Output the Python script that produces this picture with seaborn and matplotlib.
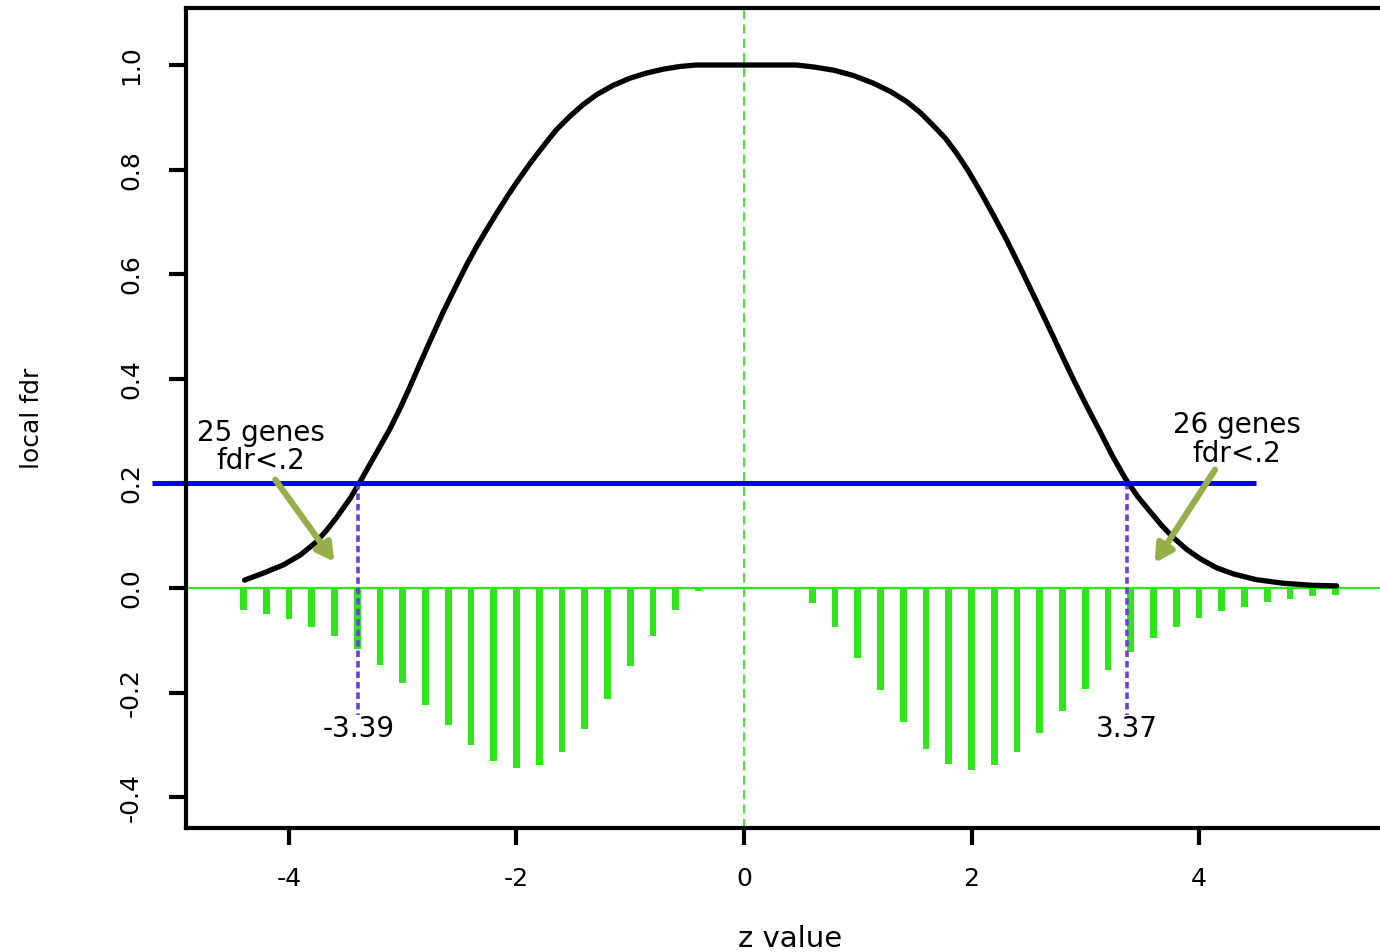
import matplotlib
matplotlib.use("Agg")
import matplotlib.pyplot as plt
import seaborn as sns
import pandas as pd

# ---- data -------------------------------------------------------------
# histogram of z values (scaled counts, drawn downward below zero)
left_z = [-4.4, -4.2, -4.0, -3.8, -3.6, -3.4, -3.2, -3.0, -2.8, -2.6, -2.4,
          -2.2, -2.0, -1.8, -1.6, -1.4, -1.2, -1.0, -0.8, -0.6, -0.4]
left_depth = [0.043, 0.050, 0.059, 0.074, 0.091, 0.117, 0.147, 0.182, 0.223,
              0.262, 0.301, 0.330, 0.344, 0.338, 0.314, 0.270, 0.212, 0.150,
              0.092, 0.043, 0.006]
right_z = [0.6, 0.8, 1.0, 1.2, 1.4, 1.6, 1.8, 2.0, 2.2, 2.4, 2.6, 2.8, 3.0,
           3.2, 3.4, 3.6, 3.8, 4.0, 4.2, 4.4, 4.6, 4.8, 5.0, 5.2]
right_depth = [0.029, 0.075, 0.134, 0.196, 0.257, 0.308, 0.337, 0.349, 0.338,
               0.314, 0.277, 0.236, 0.194, 0.157, 0.122, 0.096, 0.075, 0.058,
               0.045, 0.036, 0.027, 0.021, 0.016, 0.013]

# estimated local fdr curve
curve_z = [-4.39, -4.23, -4.05, -3.90, -3.76, -3.67, -3.58, -3.46, -3.37,
           -3.24, -3.11, -3.02, -2.94, -2.85, -2.76, -2.65, -2.53, -2.44,
           -2.35, -2.26, -2.17, -2.08, -2.00, -1.88, -1.76, -1.65, -1.53,
           -1.41, -1.29, -1.15, -1.00, -0.85, -0.71, -0.57, -0.42, 0.00,
           0.46, 0.62, 0.79, 0.96, 1.14, 1.29, 1.43, 1.55, 1.66, 1.77, 1.87,
           1.97, 2.07, 2.19, 2.31, 2.41, 2.51, 2.62, 2.72, 2.81, 2.90, 3.01,
           3.13, 3.24, 3.35, 3.46, 3.57, 3.67, 3.77, 3.89, 4.01, 4.15, 4.30,
           4.50, 4.74, 5.00, 5.21]
curve_fdr = [0.015, 0.028, 0.044, 0.063, 0.088, 0.110, 0.135, 0.172, 0.205,
             0.255, 0.305, 0.345, 0.383, 0.428, 0.472, 0.525, 0.578, 0.617,
             0.653, 0.686, 0.718, 0.749, 0.775, 0.812, 0.846, 0.876, 0.902,
             0.925, 0.944, 0.961, 0.975, 0.985, 0.992, 0.997, 1.000, 1.000,
             1.000, 0.996, 0.990, 0.980, 0.965, 0.949, 0.930, 0.909, 0.885,
             0.860, 0.831, 0.798, 0.761, 0.714, 0.665, 0.621, 0.576, 0.526,
             0.480, 0.438, 0.397, 0.349, 0.299, 0.252, 0.210, 0.175, 0.146,
             0.120, 0.097, 0.074, 0.056, 0.039, 0.027, 0.016, 0.009, 0.005,
             0.004]

fdr_cut = 0.2
cut_left, cut_right = -3.39, 3.37
genes_left, genes_right = 25, 26

x_ticks = [-4, -2, 0, 2, 4]
y_ticks = [-0.4, -0.2, 0.0, 0.2, 0.4, 0.6, 0.8, 1.0]

# ---- style ------------------------------------------------------------
sns.set_style("ticks")
plt.rcParams["font.family"] = ["DejaVu Sans"]
plt.rcParams["axes.unicode_minus"] = False
plt.rcParams["text.color"] = "black"
plt.rcParams["axes.labelcolor"] = "black"

GREEN = "#2ee619"
BLUE = "#0000ff"
PURPLE = "#6b3fd9"
OLIVE = "#95b04a"

fig = plt.figure(figsize=(13.8, 9.52), dpi=100)
ax = fig.add_axes([186 / 1380, 1 - 828 / 952, (1394 - 186) / 1380, 820 / 952])

hist = pd.DataFrame({
    "z": left_z + right_z,
    "value": [-d for d in left_depth + right_depth],
})
sns.barplot(data=hist, x="z", y="value", native_scale=True, width=0.3,
            color=GREEN, saturation=1, errorbar=None, linewidth=0, ax=ax,
            zorder=2)

# reference lines at zero
ax.axhline(0, color=GREEN, lw=1.6, zorder=2.2)
ax.axvline(0, color=GREEN, lw=1.3, dashes=(5, 3), zorder=2.2)

# local fdr curve
sns.lineplot(x=curve_z, y=curve_fdr, color="black", lw=3.8,
             estimator=None, ax=ax, zorder=3)
ax.lines[-1].set_solid_capstyle("round")
ax.lines[-1].set_solid_joinstyle("round")

# threshold line (extends past the left frame)
ax.plot([-5.2, 4.5], [fdr_cut, fdr_cut], color=BLUE, lw=3.6,
        solid_capstyle="butt", clip_on=False, zorder=4)

# cut-off markers
for zc in (cut_left, cut_right):
    ax.plot([zc, zc], [fdr_cut, -0.243], color=PURPLE, lw=2.6,
            dashes=(1.8, 1.1), zorder=3.5)
    ax.text(zc, -0.270, f"{zc:.2f}", ha="center", va="center",
            fontsize=20, color="black", zorder=5)

# gene counts with arrows
ax.text(-4.25, 0.296, f"{genes_left} genes", ha="center", va="center",
        fontsize=20, zorder=2)
ax.text(-4.25, 0.243, "fdr<.2", ha="center", va="center", fontsize=20,
        zorder=2)
ax.text(4.33, 0.312, f"{genes_right} genes", ha="center", va="center",
        fontsize=20, zorder=5)
ax.text(4.33, 0.256, "fdr<.2", ha="center", va="center", fontsize=20,
        zorder=5)

arrow = dict(arrowstyle="-|>,head_length=0.4,head_width=0.22", color=OLIVE,
             lw=4.5, mutation_scale=26, shrinkA=0, shrinkB=0)
ax.annotate("", xy=(-3.60, 0.050), xytext=(-4.12, 0.207), arrowprops=arrow,
            zorder=6)
ax.annotate("", xy=(3.61, 0.048), xytext=(4.14, 0.226), arrowprops=arrow,
            zorder=6)

# ---- axes -------------------------------------------------------------
ax.set_xlim(-4.905, 5.714)
ax.set_ylim(-0.459, 1.109)
ax.set_xticks(x_ticks)
ax.set_xticklabels([str(t) for t in x_ticks])
ax.set_yticks(y_ticks)
ax.set_yticklabels([f"{t:.1f}" for t in y_ticks])

for side in ("left", "bottom", "top", "right"):
    ax.spines[side].set_visible(True)
    ax.spines[side].set_linewidth(3)
    ax.spines[side].set_color("black")
    ax.spines[side].set_zorder(4.5)

ax.tick_params(axis="both", direction="out", length=12, width=3,
               colors="black", labelsize=18)
ax.tick_params(axis="x", pad=16)
ax.tick_params(axis="y", pad=19)
for lab in ax.get_yticklabels():
    lab.set_rotation(90)
    lab.set_va("center")
    lab.set_ha("right")

ax.set_xlabel("z value", fontsize=21)
ax.xaxis.label.set_va("baseline")
ax.xaxis.set_label_coords(0.5, -(947 - 828) / 820)
ax.set_ylabel("local fdr", fontsize=18)
ax.yaxis.set_label_coords(-(186 - 44) / 1208, 0.5)

ax.grid(False)
ax.set_facecolor("white")
fig.patch.set_facecolor("white")

fig.savefig("out.png", dpi=100, facecolor="white")
